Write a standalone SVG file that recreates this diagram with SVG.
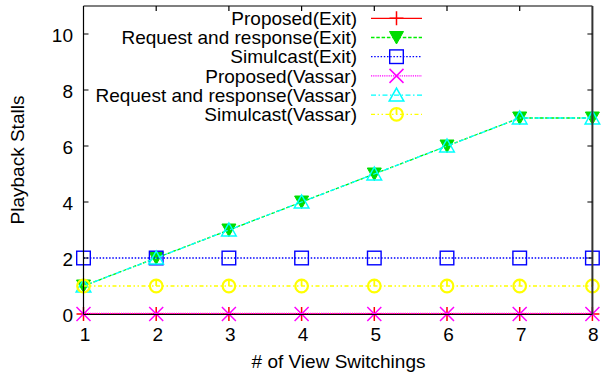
<svg xmlns="http://www.w3.org/2000/svg" xmlns:xlink="http://www.w3.org/1999/xlink" width="603" height="376" viewBox="0 0 603 376">
  <style>
    text { font-family: "Liberation Sans", Arial, sans-serif; font-size: 19px; fill: #000; }
    .tick { text-anchor: middle; }
    .ytick { text-anchor: end; }
    .key { text-anchor: end; }
    .axis { stroke: #000; stroke-width: 1.2; fill: none; }
    .s1 { stroke: #ff0000; stroke-width: 1.3; fill: none; }
    .s2 { stroke: #00ee00; stroke-width: 1.3; fill: none; stroke-dasharray: 3.5 1.8; }
    .s3 { stroke: #0000ff; stroke-width: 1.3; fill: none; stroke-dasharray: 1.5 1.7; }
    .s4 { stroke: #ff00ff; stroke-width: 1.3; fill: none; stroke-dasharray: 1.2 1; }
    .s5 { stroke: #00ffff; stroke-width: 1.3; fill: none; stroke-dasharray: 5 2.5 1.5 2.5; }
    .s6 { stroke: #ffff00; stroke-width: 1.3; fill: none; stroke-dasharray: 4 2.5 1.5 2.5 1.5 2.5; }
  </style>
  <defs>
    <g id="pt-plus"><path d="M-7,0H7M0,-7V7" stroke="#ff0000" stroke-width="1.5" fill="none"/></g>
    <g id="pt-tridown"><polygon points="-7,-6 7,-6 0,6.5" fill="#00dd00" stroke="#00dd00" stroke-width="1"/></g>
    <g id="pt-square"><rect x="-6.8" y="-6.8" width="13.6" height="13.6" fill="none" stroke="#0000ff" stroke-width="1.4"/></g>
    <g id="pt-cross"><path d="M-7,-7L7,7M-7,7L7,-7" stroke="#ff00ff" stroke-width="1.5" fill="none"/></g>
    <g id="pt-triup"><polygon points="-7.3,6 7.3,6 0,-7" fill="none" stroke="#00ffff" stroke-width="1.5"/></g>
    <g id="pt-circle"><circle r="6.3" fill="none" stroke="#ffff00" stroke-width="2.2"/><path d="M0,-6.3V0" stroke="#ffff00" stroke-width="1.8"/></g>
  </defs>

  <!-- axis labels and tick labels -->
  <g id="tick-labels">
    <text class="ytick" x="73" y="321.5">0</text>
    <text class="ytick" x="73" y="265.5">2</text>
    <text class="ytick" x="73" y="209.5">4</text>
    <text class="ytick" x="73" y="153.5">6</text>
    <text class="ytick" x="73" y="97.5">8</text>
    <text class="ytick" x="73" y="41.5">10</text>
    <text class="tick" x="85" y="340.5">1</text>
    <text class="tick" x="157.7" y="340.5">2</text>
    <text class="tick" x="230.4" y="340.5">3</text>
    <text class="tick" x="303.1" y="340.5">4</text>
    <text class="tick" x="375.8" y="340.5">5</text>
    <text class="tick" x="448.5" y="340.5">6</text>
    <text class="tick" x="521.2" y="340.5">7</text>
    <text class="tick" x="593.4" y="340.5">8</text>
  </g>
  <text id="x-label" x="338.5" y="367.5" text-anchor="middle"># of View Switchings</text>
  <text id="y-label" transform="translate(23.5,160) rotate(-90)" text-anchor="middle">Playback Stalls</text>

  <!-- key -->
  <g id="key">
    <text class="key" x="357" y="25">Proposed(Exit)</text>
    <path class="s1" d="M371,18.3H422"/>
    <use xlink:href="#pt-plus" x="396.5" y="18.3"/>
    <text class="key" x="357" y="44.2">Request and response(Exit)</text>
    <path class="s2" d="M371,37.5H422"/>
    <use xlink:href="#pt-tridown" x="396.5" y="37.5"/>
    <text class="key" x="357" y="63.4">Simulcast(Exit)</text>
    <path class="s3" d="M371,56.7H422"/>
    <use xlink:href="#pt-square" x="396.5" y="56.7"/>
    <text class="key" x="357" y="82.6">Proposed(Vassar)</text>
    <path class="s4" d="M371,75.9H422"/>
    <use xlink:href="#pt-cross" x="396.5" y="75.9"/>
    <text class="key" x="357" y="101.8">Request and response(Vassar)</text>
    <path class="s5" d="M371,95.1H422"/>
    <use xlink:href="#pt-triup" x="396.5" y="95.1"/>
    <text class="key" x="357" y="121">Simulcast(Vassar)</text>
    <path class="s6" d="M371,114.3H422"/>
    <use xlink:href="#pt-circle" x="396.5" y="114.3"/>
  </g>

  <!-- data series -->
  <g id="series-proposed-exit">
    <path class="s1" d="M83.5,314H592.4"/>
    <use xlink:href="#pt-plus" x="83.5" y="314"/>
    <use xlink:href="#pt-plus" x="156.2" y="314"/>
    <use xlink:href="#pt-plus" x="228.9" y="314"/>
    <use xlink:href="#pt-plus" x="301.6" y="314"/>
    <use xlink:href="#pt-plus" x="374.3" y="314"/>
    <use xlink:href="#pt-plus" x="447" y="314"/>
    <use xlink:href="#pt-plus" x="519.7" y="314"/>
    <use xlink:href="#pt-plus" x="592.4" y="314"/>
  </g>
  <g id="series-rr-exit">
    <path class="s2" d="M83.5,286L156.2,258L228.9,230L301.6,202L374.3,174L447,146L519.7,118L592.4,118"/>
    <use xlink:href="#pt-tridown" x="83.5" y="286"/>
    <use xlink:href="#pt-tridown" x="156.2" y="258"/>
    <use xlink:href="#pt-tridown" x="228.9" y="230"/>
    <use xlink:href="#pt-tridown" x="301.6" y="202"/>
    <use xlink:href="#pt-tridown" x="374.3" y="174"/>
    <use xlink:href="#pt-tridown" x="447" y="146"/>
    <use xlink:href="#pt-tridown" x="519.7" y="118"/>
    <use xlink:href="#pt-tridown" x="592.4" y="118"/>
  </g>
  <g id="series-simulcast-exit">
    <path class="s3" d="M83.5,258H592.4"/>
    <use xlink:href="#pt-square" x="83.5" y="258"/>
    <use xlink:href="#pt-square" x="156.2" y="258"/>
    <use xlink:href="#pt-square" x="228.9" y="258"/>
    <use xlink:href="#pt-square" x="301.6" y="258"/>
    <use xlink:href="#pt-square" x="374.3" y="258"/>
    <use xlink:href="#pt-square" x="447" y="258"/>
    <use xlink:href="#pt-square" x="519.7" y="258"/>
    <use xlink:href="#pt-square" x="592.4" y="258"/>
  </g>
  <g id="series-proposed-vassar">
    <path class="s4" d="M83.5,313.5H592.4"/>
    <use xlink:href="#pt-cross" x="83.5" y="314"/>
    <use xlink:href="#pt-cross" x="156.2" y="314"/>
    <use xlink:href="#pt-cross" x="228.9" y="314"/>
    <use xlink:href="#pt-cross" x="301.6" y="314"/>
    <use xlink:href="#pt-cross" x="374.3" y="314"/>
    <use xlink:href="#pt-cross" x="447" y="314"/>
    <use xlink:href="#pt-cross" x="519.7" y="314"/>
    <use xlink:href="#pt-cross" x="592.4" y="314"/>
  </g>
  <g id="series-rr-vassar">
    <path class="s5" d="M83.5,286L156.2,258L228.9,230L301.6,202L374.3,174L447,146L519.7,118L592.4,118"/>
    <use xlink:href="#pt-triup" x="83.5" y="286"/>
    <use xlink:href="#pt-triup" x="156.2" y="258"/>
    <use xlink:href="#pt-triup" x="228.9" y="230"/>
    <use xlink:href="#pt-triup" x="301.6" y="202"/>
    <use xlink:href="#pt-triup" x="374.3" y="174"/>
    <use xlink:href="#pt-triup" x="447" y="146"/>
    <use xlink:href="#pt-triup" x="519.7" y="118"/>
    <use xlink:href="#pt-triup" x="592.4" y="118"/>
  </g>
  <g id="series-simulcast-vassar">
    <path class="s6" d="M83.5,286H592.4"/>
    <use xlink:href="#pt-circle" x="83.5" y="286"/>
    <use xlink:href="#pt-circle" x="156.2" y="286"/>
    <use xlink:href="#pt-circle" x="228.9" y="286"/>
    <use xlink:href="#pt-circle" x="301.6" y="286"/>
    <use xlink:href="#pt-circle" x="374.3" y="286"/>
    <use xlink:href="#pt-circle" x="447" y="286"/>
    <use xlink:href="#pt-circle" x="519.7" y="286"/>
    <use xlink:href="#pt-circle" x="592.4" y="286"/>
  </g>

  <!-- frame and tick marks, drawn over the data -->
  <g id="frame">
    <path class="axis" d="M83.5,6H592.4M83.5,6V314.5M83.5,314.5H592.4"/>
    <path d="M592.4,6V314.5" stroke="#333" stroke-width="2" fill="none"/>
    <path class="axis" d="M83.5,34h5M83.5,90h5M83.5,146h5M83.5,202h5M83.5,258h5
                          M592.4,34h-5M592.4,90h-5M592.4,146h-5M592.4,202h-5M592.4,258h-5
                          M156.2,6v5M228.9,6v5M301.6,6v5M374.3,6v5M447,6v5M519.7,6v5"/>
  </g>
</svg>
